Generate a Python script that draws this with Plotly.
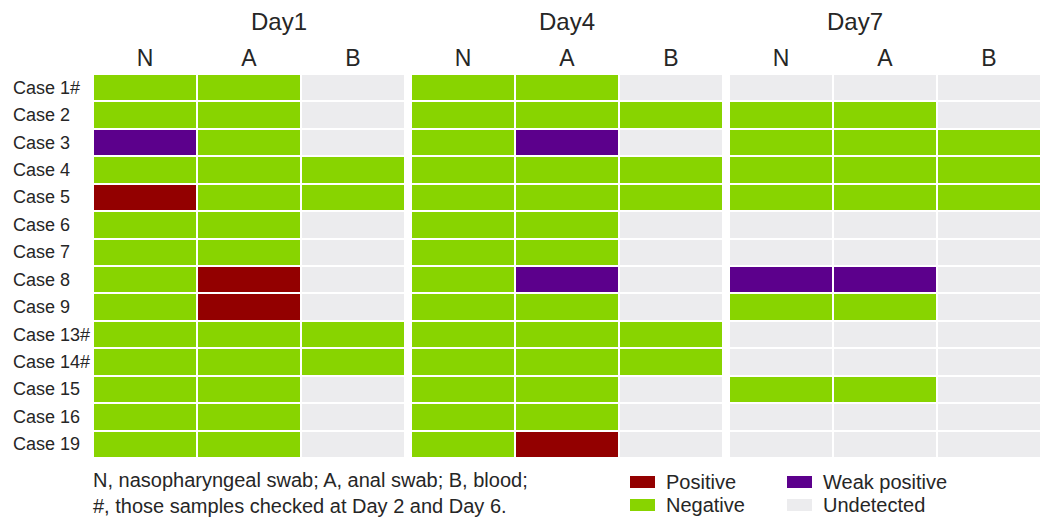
import plotly.graph_objects as go
from plotly.subplots import make_subplots

cases = ["Case 1#", "Case 2", "Case 3", "Case 4", "Case 5", "Case 6", "Case 7",
         "Case 8", "Case 9", "Case 13#", "Case 14#", "Case 15", "Case 16", "Case 19"]
days = ["Day1", "Day4", "Day7"]
samples = ["N", "A", "B"]
# 0 = Undetected, 1 = Negative, 2 = Positive, 3 = Weak positive
day1 = [[1, 1, 0], [1, 1, 0], [3, 1, 0], [1, 1, 1], [2, 1, 1], [1, 1, 0], [1, 1, 0],
        [1, 2, 0], [1, 2, 0], [1, 1, 1], [1, 1, 1], [1, 1, 0], [1, 1, 0], [1, 1, 0]]
day4 = [[1, 1, 0], [1, 1, 1], [1, 3, 0], [1, 1, 1], [1, 1, 1], [1, 1, 0], [1, 1, 0],
        [1, 3, 0], [1, 1, 0], [1, 1, 1], [1, 1, 1], [1, 1, 0], [1, 1, 0], [1, 2, 0]]
day7 = [[0, 0, 0], [1, 1, 0], [1, 1, 1], [1, 1, 1], [1, 1, 1], [0, 0, 0], [0, 0, 0],
        [3, 3, 0], [1, 1, 0], [0, 0, 0], [0, 0, 0], [1, 1, 0], [0, 0, 0], [0, 0, 0]]
status_labels = ["Undetected", "Negative", "Positive", "Weak positive"]
status_colors = ["#ECECEE", "#88D400", "#930000", "#5C008C"]

colorscale = []
for i, c in enumerate(status_colors):
    colorscale.append([i / 4, c])
    colorscale.append([(i + 1) / 4, c])

W, H = 1052, 526
ml, mr, mt, mb = 93, 11, 74, 68
pw = W - ml - mr
ph = H - mt - mb
TXT = "#262626"

fig = make_subplots(rows=1, cols=3, shared_yaxes=True, horizontal_spacing=6 / pw)
for k, data in enumerate([day1, day4, day7]):
    fig.add_trace(go.Heatmap(
        z=data, x=samples, y=cases, colorscale=colorscale, zmin=-0.5, zmax=3.5,
        showscale=False, xgap=2, ygap=2, hoverinfo="skip"), row=1, col=k + 1)
    fig.update_xaxes(side="top", showgrid=False, zeroline=False, ticks="",
                     automargin=False, ticklabelstandoff=2,
                     tickfont=dict(size=23, color=TXT), row=1, col=k + 1)

fig.update_yaxes(autorange="reversed", showgrid=False, zeroline=False, ticks="",
                 automargin=False, showticklabels=False)

annotations = []
# left-aligned row labels, placed through the y axis
for c in cases:
    annotations.append(dict(text=c, x=0, xref="paper", xanchor="left",
                            xshift=11 - ml, y=c, yref="y", yanchor="middle",
                            showarrow=False, font=dict(size=18, color=TXT)))

for k, d in enumerate(days):
    ax = fig.layout["xaxis" if k == 0 else f"xaxis{k+1}"]
    cx = (ax.domain[0] + ax.domain[1]) / 2
    annotations.append(dict(text=d, x=cx, y=(H - mb - 22) / ph, xref="paper", yref="paper",
                            yanchor="middle", showarrow=False,
                            font=dict(size=24, color=TXT)))

# footnote
annotations.append(dict(text="N, nasopharyngeal swab; A, anal swab; B, blood;<br>#, those samples checked at Day 2 and Day 6.",
                        x=0, xref="paper", xanchor="left", xshift=-2,
                        y=(H - mb - 493) / ph, yref="paper", yanchor="middle", align="left",
                        showarrow=False, font=dict(size=20, color=TXT)))

# legend (2x2)
legend_order = [2, 3, 1, 0]
shapes = []
pos = [(630, 482), (787, 482), (630, 505), (787, 505)]
for (px, py), idx in zip(pos, legend_order):
    shapes.append(dict(type="rect", xref="paper", yref="paper",
                       x0=(px - ml) / pw, x1=(px + 25 - ml) / pw,
                       y0=(H - mb - (py + 6)) / ph,
                       y1=(H - mb - (py - 6)) / ph,
                       fillcolor=status_colors[idx], line=dict(width=0)))
    annotations.append(dict(text=status_labels[idx], xref="paper", yref="paper",
                            x=(px + 34 - ml) / pw, xanchor="left",
                            y=(H - mb - py) / ph, yanchor="middle",
                            showarrow=False, font=dict(size=20, color=TXT)))

fig.update_layout(width=W, height=H, margin=dict(l=ml, r=mr, t=mt, b=mb),
                  plot_bgcolor="white", paper_bgcolor="white",
                  font=dict(family="Liberation Sans, Arial, sans-serif"),
                  annotations=annotations, shapes=shapes)

fig.write_html("out.html", config={"displayModeBar": False},
               post_script="document.body.style.margin='0';")
